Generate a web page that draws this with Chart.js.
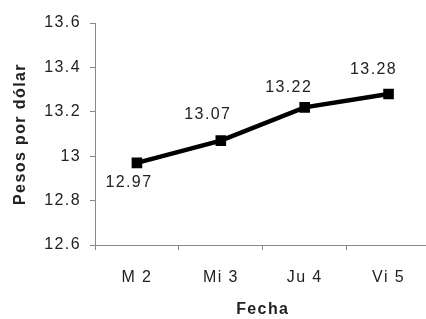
<!DOCTYPE html>
<html>
<head>
<meta charset="utf-8">
<script src="https://cdn.jsdelivr.net/npm/chart.js@4/dist/chart.umd.min.js"></script>
<style>
  html, body { margin: 0; padding: 0; background: #fff; overflow: hidden; }
  #wrap { width: 438px; height: 319px; }
</style>
</head>
<body>
<div id="wrap"><canvas id="tipoCambio" width="438" height="319"></canvas></div>
<script>
// Tipo de cambio, pesos por dolar
const fechas = ["M 2", "Mi 3", "Ju 4", "Vi 5"]
const pesos = [12.97, 13.07, 13.22, 13.28]
const yTicks = [12.6, 12.8, 13, 13.2, 13.4, 13.6]

const FONT = "'Liberation Sans', Arial, sans-serif"

// the original text looks stretched sideways, so add a bit of spacing
const spacing = {
  id: "spacing",
  beforeUpdate(chart) {
    chart.ctx.letterSpacing = "1.4px"
  },
  beforeDraw(chart) {
    chart.ctx.letterSpacing = "1.4px"
  },
}

// value labels next to each point (dx, dy from the marker)
const labelOffsets = [[-8, 20], [-13, -26], [-16, -20], [-15, -24]]
const valueLabels = {
  id: "valueLabels",
  afterDatasetsDraw(chart) {
    const ctx = chart.ctx
    const meta = chart.getDatasetMeta(0)
    ctx.save()
    ctx.font = "16px " + FONT
    ctx.fillStyle = "#222"
    ctx.textAlign = "center"
    ctx.textBaseline = "middle"
    meta.data.forEach((pt, i) => {
      const [dx, dy] = labelOffsets[i]
      ctx.fillText(pesos[i].toFixed(2), pt.x + dx, pt.y + dy)
    })
    ctx.restore()
  },
}

document.addEventListener("DOMContentLoaded", () => {
  const ctx = document.getElementById("tipoCambio")
  new Chart(ctx, {
    type: "line",
    data: {
      labels: fechas,
      datasets: [
        {
          data: pesos,
          borderColor: "#000",
          backgroundColor: "#000",
          borderWidth: 4.5,
          tension: 0,
          pointStyle: "rect",
          pointRadius: 7.5,
          pointBorderWidth: 0,
        },
      ],
    },
    options: {
      responsive: false,
      animation: false,
      layout: { padding: { top: 23, right: 0, left: 7, bottom: 0 } },
      plugins: {
        legend: { display: false },
        tooltip: { enabled: false },
      },
      scales: {
        x: {
          offset: true,
          border: { color: "#888", width: 1 },
          grid: {
            offset: true,
            drawOnChartArea: false,
            color: "#888",
            tickLength: 5,
          },
          ticks: {
            color: "#222",
            padding: 18,
            font: { family: FONT, size: 16 },
          },
          title: {
            display: true,
            text: "Fecha",
            color: "#222",
            padding: { top: 4, bottom: 0 },
            font: { family: FONT, size: 16, weight: "bold" },
          },
          afterFit: (scale) => {
            scale.height = 74
          },
        },
        y: {
          min: yTicks[0],
          max: yTicks[yTicks.length - 1],
          border: { color: "#888", width: 1 },
          grid: {
            drawOnChartArea: false,
            color: "#888",
            tickLength: 5,
          },
          afterBuildTicks: (scale) => {
            scale.ticks = yTicks.map((v) => ({ value: v }))
          },
          ticks: {
            color: "#222",
            padding: 9,
            callback: (value) => String(value),
            font: { family: FONT, size: 16 },
          },
          title: {
            display: true,
            text: "Pesos por dólar",
            color: "#222",
            padding: { top: 4 },
            font: { family: FONT, size: 16, weight: "bold" },
          },
          afterFit: (scale) => {
            scale.width = 88
          },
        },
      },
    },
    plugins: [spacing, valueLabels],
  })
})
</script>
</body>
</html>
